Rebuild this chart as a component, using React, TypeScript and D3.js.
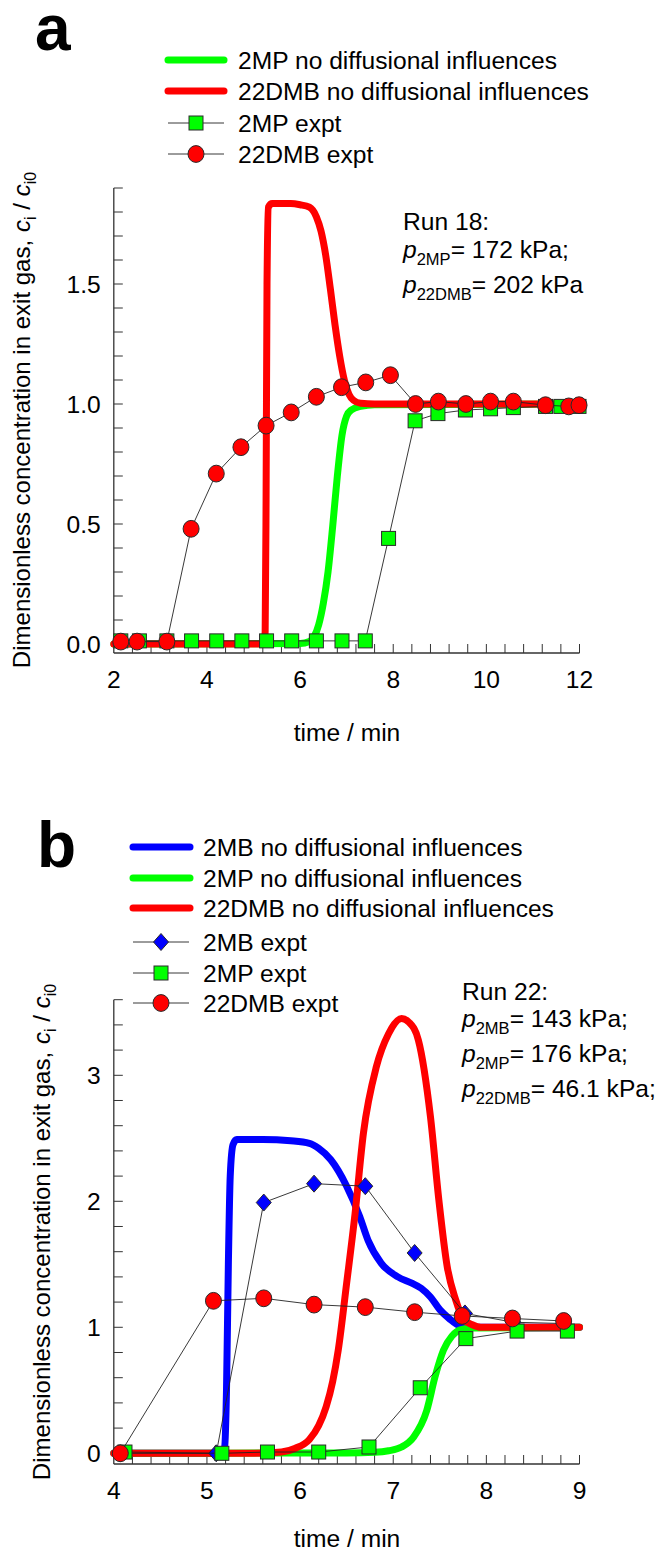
import React from "react";
import * as d3 from "d3";

const FONT = "'Liberation Sans', Arial, Helvetica, sans-serif";
const FS = 24.6;
const GREEN = "#00ff00";
const RED = "#ff0000";
const BLUE = "#0000ff";

// ---------- Panel a data (Run 18) ----------
const aXTicks = [2, 4, 6, 8, 10, 12];
const aYTicks = [0, 0.5, 1.0, 1.5];
const aYTickLabels = ["0.0", "0.5", "1.0", "1.5"];

const aModel2MP_t = [2.0, 6.0, 6.2, 6.3, 6.4, 6.5, 6.6, 6.7, 6.8, 6.9, 7.0, 7.1, 7.3, 7.6, 12.0];
const aModel2MP_c = [0, 0.002, 0.01, 0.03, 0.08, 0.17, 0.3, 0.49, 0.7, 0.87, 0.95, 0.975, 0.99, 0.997, 1.0];

const aModel22DMB_t = [2.0, 5.22, 5.25, 5.27, 5.29, 5.32, 5.4, 5.8, 6.0, 6.2, 6.35, 6.45, 6.55, 6.65, 6.75, 6.85, 6.95, 7.05, 7.15, 7.3, 7.6, 12.0];
const aModel22DMB_c = [0, 0, 0.05, 0.6, 1.5, 1.82, 1.835, 1.835, 1.83, 1.82, 1.78, 1.72, 1.62, 1.48, 1.33, 1.2, 1.1, 1.04, 1.015, 1.003, 1.0, 1.0];

const aExp2MP_t = [2.15, 2.55, 3.14, 3.67, 4.21, 4.75, 5.28, 5.82, 6.35, 6.9, 7.4, 7.9, 8.47, 8.96, 9.55, 10.09, 10.58, 11.27, 11.6, 11.99];
const aExp2MP_c = [0.013, 0.013, 0.013, 0.013, 0.013, 0.013, 0.013, 0.013, 0.013, 0.013, 0.013, 0.44, 0.93, 0.96, 0.975, 0.98, 0.985, 0.99, 0.99, 0.99];

const aExp22DMB_t = [2.15, 2.5, 3.14, 3.66, 4.2, 4.73, 5.27, 5.81, 6.35, 6.89, 7.41, 7.94, 8.48, 8.97, 9.56, 10.09, 10.58, 11.27, 11.77, 11.99];
const aExp22DMB_c = [0.01, 0.01, 0.01, 0.48, 0.71, 0.82, 0.91, 0.965, 1.03, 1.07, 1.09, 1.12, 1.0, 1.01, 1.0, 1.01, 1.01, 0.995, 0.99, 0.995];

// ---------- Panel b data (Run 22) ----------
const bXTicks = [4, 5, 6, 7, 8, 9];
const bYTicks = [0, 1, 2, 3];
const bYTickLabels = ["0", "1", "2", "3"];

const bModel2MB_t = [4.0, 5.15, 5.19, 5.21, 5.23, 5.25, 5.28, 5.32, 5.6, 5.9, 6.1, 6.2, 6.33, 6.5, 6.64, 6.73, 6.87, 7.05, 7.2, 7.3, 7.4, 7.5, 7.6, 7.72, 7.85, 9.0];
const bModel2MB_c = [0, 0, 0.05, 0.5, 1.5, 2.2, 2.45, 2.49, 2.49, 2.48, 2.46, 2.42, 2.33, 2.12, 1.88, 1.69, 1.51, 1.4, 1.35, 1.31, 1.24, 1.14, 1.07, 1.01, 1.0, 1.0];

const bModel2MP_t = [4.0, 6.5, 6.8, 6.95, 7.09, 7.22, 7.36, 7.45, 7.54, 7.63, 7.72, 7.85, 9.0];
const bModel2MP_c = [0, 0.003, 0.008, 0.02, 0.05, 0.13, 0.34, 0.61, 0.82, 0.93, 0.98, 0.995, 1.0];

const bModel22DMB_t = [4.0, 5.5, 5.8, 5.95, 6.1, 6.2, 6.28, 6.35, 6.41, 6.5, 6.59, 6.68, 6.82, 6.95, 7.09, 7.17, 7.27, 7.4, 7.49, 7.58, 7.67, 7.76, 7.85, 7.94, 9.0];
const bModel22DMB_c = [0, 0, 0.01, 0.04, 0.11, 0.22, 0.37, 0.57, 0.82, 1.35, 1.9, 2.54, 3.07, 3.33, 3.45, 3.42, 3.28, 2.67, 2.01, 1.48, 1.22, 1.06, 1.02, 1.0, 1.0];

const bExp2MB_t = [4.07, 5.1, 5.61, 6.15, 6.7, 7.23, 7.77, 8.29, 8.83];
const bExp2MB_c = [0.0, 0.0, 1.99, 2.14, 2.12, 1.59, 1.11, 1.04, 1.03];

const bExp2MP_t = [4.12, 5.16, 5.65, 6.2, 6.74, 7.29, 7.78, 8.33, 8.87];
const bExp2MP_c = [0.01, 0.0, 0.01, 0.01, 0.05, 0.52, 0.91, 0.97, 0.97];

const bExp22DMB_t = [4.07, 5.07, 5.61, 6.15, 6.7, 7.23, 7.74, 8.28, 8.83];
const bExp22DMB_c = [0.0, 1.21, 1.23, 1.18, 1.16, 1.12, 1.09, 1.07, 1.05];

const zip = (t: number[], c: number[]) => t.map((v, i) => [v, c[i]] as [number, number]);

type Scale = d3.ScaleLinear<number, number>;

function Marker({ kind, cx, cy }: { kind: string; cx: number; cy: number }) {
  if (kind === "square")
    return <rect x={cx - 7} y={cy - 7} width={14} height={14} fill={GREEN} stroke="#2a2a2a" strokeWidth={1} />;
  if (kind === "circle")
    return <ellipse cx={cx} cy={cy} rx={8} ry={8.4} fill={RED} stroke="#2a2a2a" strokeWidth={1} />;
  return (
    <path
      d={`M${cx},${cy - 8.5}L${cx + 7.5},${cy}L${cx},${cy + 8.5}L${cx - 7.5},${cy}Z`}
      fill={BLUE}
      stroke="#2a2a2a"
      strokeWidth={1}
    />
  );
}

function Axes({
  x, y, xTicks, xMinor, yTicks, yLabels, yMinor, bottom, top,
}: {
  x: Scale; y: Scale; xTicks: number[]; xMinor: number[]; yTicks: number[]; yLabels: string[]; yMinor: number[]; bottom: number; top: number;
}) {
  const [x0, x1] = x.range();
  return (
    <g>
      <line x1={x0} x2={x0} y1={top} y2={bottom} stroke="#333" strokeWidth={1.3} />
      <line x1={x0} x2={x1} y1={bottom} y2={bottom} stroke="#333" strokeWidth={1.3} />
      {xMinor.map((v, i) => (
        <line key={"xm" + i} x1={x(v)} x2={x(v)} y1={bottom} y2={bottom - 9} stroke="#333" strokeWidth={1} />
      ))}
      {yMinor.map((v, i) => (
        <line key={"ym" + i} x1={x0} x2={x0 + 9} y1={y(v)} y2={y(v)} stroke="#333" strokeWidth={1} />
      ))}
      {xTicks.map((v, i) => (
        <text key={"xl" + i} x={x(v)} y={bottom + 35} textAnchor="middle" fontSize={FS} fontFamily={FONT} fill="#000">
          {String(v)}
        </text>
      ))}
      {yTicks.map((v, i) => (
        <text key={"yl" + i} x={x0 - 13} y={y(v) + 8.7} textAnchor="end" fontSize={FS} fontFamily={FONT} fill="#000">
          {yLabels[i]}
        </text>
      ))}
    </g>
  );
}

function Series({ x, y, t, c, kind }: { x: Scale; y: Scale; t: number[]; c: number[]; kind: string }) {
  const pts = zip(t, c);
  const ln = d3.line<[number, number]>().x((d) => x(d[0])).y((d) => y(d[1]));
  return (
    <g>
      <path d={ln(pts) || ""} fill="none" stroke="#222" strokeWidth={0.9} />
      {pts.map((p, i) => (
        <Marker key={i} kind={kind} cx={x(p[0])} cy={y(p[1])} />
      ))}
    </g>
  );
}

function Model({ x, y, t, c, color }: { x: Scale; y: Scale; t: number[]; c: number[]; color: string }) {
  const ln = d3
    .line<[number, number]>()
    .x((d) => x(d[0]))
    .y((d) => y(d[1]))
    .curve(d3.curveMonotoneX);
  return <path d={ln(zip(t, c)) || ""} fill="none" stroke={color} strokeWidth={7} strokeLinejoin="round" strokeLinecap="round" />;
}

function LegendLine({ x1, x2, y, color, label, tx }: { x1: number; x2: number; y: number; color: string; label: string; tx: number }) {
  return (
    <g>
      <line x1={x1} x2={x2} y1={y} y2={y} stroke={color} strokeWidth={7} strokeLinecap="round" />
      <text x={tx} y={y + 8.7} fontSize={FS} fontFamily={FONT}>{label}</text>
    </g>
  );
}

function LegendMarker({ x1, x2, y, kind, label, tx }: { x1: number; x2: number; y: number; kind: string; label: string; tx: number }) {
  return (
    <g>
      <line x1={x1} x2={x2} y1={y} y2={y} stroke="#222" strokeWidth={0.9} />
      <Marker kind={kind} cx={(x1 + x2) / 2} cy={y} />
      <text x={tx} y={y + 8.7} fontSize={FS} fontFamily={FONT}>{label}</text>
    </g>
  );
}

function YLabel({ x, y }: { x: number; y: number }) {
  return (
    <text transform={`translate(${x},${y}) rotate(-90)`} textAnchor="middle" fontSize={24} fontFamily={FONT}>
      Dimensionless concentration in exit gas,
      <tspan dx={8} fontStyle="italic">c</tspan>
      <tspan fontSize={16} dy={6}>i</tspan>
      <tspan dy={-6}> / </tspan>
      <tspan fontStyle="italic">c</tspan>
      <tspan fontSize={16} dy={6}>i0</tspan>
    </text>
  );
}

function Pressure({ x, y, sub, value }: { x: number; y: number; sub: string; value: string }) {
  return (
    <text x={x} y={y} fontSize={FS} fontFamily={FONT}>
      <tspan fontStyle="italic">p</tspan>
      <tspan fontSize={16.5} dy={7}>{sub}</tspan>
      <tspan dy={-7}>{value}</tspan>
    </text>
  );
}

export default function App() {
  const xA = d3.scaleLinear().domain([2, 12]).range([113.8, 579.5]);
  const yA = d3.scaleLinear().domain([-0.0375, 1.9]).range([653, 188]);
  const xB = d3.scaleLinear().domain([4, 9]).range([113.8, 579.5]);
  const yB = d3.scaleLinear().domain([-0.085, 3.6]).range([1464, 999.7]);

  const aXMinor = d3.range(1, 26).map((i) => 2 + i * 0.4);
  const aYMinor = d3.range(0, 20).map((i) => i * 0.1);
  const bXMinor = d3.range(1, 26).map((i) => 4 + i * 0.2);
  const bYMinor = d3.range(0, 19).map((i) => i * 0.2);

  return (
    <svg width={656} height={1552} style={{ display: "block", position: "absolute", left: 0, top: 0, background: "#fff" }}>
      <rect width={656} height={1552} fill="#fff" />
      {/* Panel a */}
      <text x={35} y={50} fontSize={64} fontWeight="bold" fontFamily={FONT}>a</text>
      <LegendLine x1={168} x2={224} y={60} color={GREEN} label="2MP no diffusional influences" tx={238} />
      <LegendLine x1={168} x2={224} y={91} color={RED} label="22DMB no diffusional influences" tx={238} />
      <LegendMarker x1={168} x2={224} y={123} kind="square" label="2MP expt" tx={238} />
      <LegendMarker x1={168} x2={224} y={154} kind="circle" label="22DMB expt" tx={238} />

      <Axes x={xA} y={yA} xTicks={aXTicks} xMinor={aXMinor} yTicks={aYTicks} yLabels={aYTickLabels} yMinor={aYMinor} bottom={653} top={188} />
      <Model x={xA} y={yA} t={aModel2MP_t} c={aModel2MP_c} color={GREEN} />
      <Model x={xA} y={yA} t={aModel22DMB_t} c={aModel22DMB_c} color={RED} />
      <Series x={xA} y={yA} t={aExp2MP_t} c={aExp2MP_c} kind="square" />
      <Series x={xA} y={yA} t={aExp22DMB_t} c={aExp22DMB_c} kind="circle" />

      <text x={403} y={230} fontSize={FS} fontFamily={FONT}>Run 18:</text>
      <Pressure x={403} y={258} sub="2MP" value="= 172 kPa;" />
      <Pressure x={403} y={293} sub="22DMB" value="= 202 kPa" />

      <YLabel x={30} y={420} />
      <text x={347} y={741} textAnchor="middle" fontSize={FS} fontFamily={FONT}>time / min</text>

      {/* Panel b */}
      <text x={37} y={867} fontSize={64} fontWeight="bold" fontFamily={FONT}>b</text>
      <LegendLine x1={133} x2={190} y={847} color={BLUE} label="2MB no diffusional influences" tx={203} />
      <LegendLine x1={133} x2={190} y={878} color={GREEN} label="2MP no diffusional influences" tx={203} />
      <LegendLine x1={133} x2={190} y={908} color={RED} label="22DMB no diffusional influences" tx={203} />
      <LegendMarker x1={133} x2={189} y={942} kind="diamond" label="2MB expt" tx={203} />
      <LegendMarker x1={133} x2={189} y={973} kind="square" label="2MP expt" tx={203} />
      <LegendMarker x1={133} x2={189} y={1003} kind="circle" label="22DMB expt" tx={203} />

      <Axes x={xB} y={yB} xTicks={bXTicks} xMinor={bXMinor} yTicks={bYTicks} yLabels={bYTickLabels} yMinor={bYMinor} bottom={1464} top={999.7} />
      <Model x={xB} y={yB} t={bModel2MB_t} c={bModel2MB_c} color={BLUE} />
      <Model x={xB} y={yB} t={bModel2MP_t} c={bModel2MP_c} color={GREEN} />
      <Model x={xB} y={yB} t={bModel22DMB_t} c={bModel22DMB_c} color={RED} />
      <Series x={xB} y={yB} t={bExp2MB_t} c={bExp2MB_c} kind="diamond" />
      <Series x={xB} y={yB} t={bExp2MP_t} c={bExp2MP_c} kind="square" />
      <Series x={xB} y={yB} t={bExp22DMB_t} c={bExp22DMB_c} kind="circle" />

      <text x={462} y={1000} fontSize={FS} fontFamily={FONT}>Run 22:</text>
      <Pressure x={462} y={1027} sub="2MB" value="= 143 kPa;" />
      <Pressure x={462} y={1062} sub="2MP" value="= 176 kPa;" />
      <Pressure x={462} y={1097} sub="22DMB" value="= 46.1 kPa;" />

      <YLabel x={50} y={1232} />
      <text x={347} y={1547} textAnchor="middle" fontSize={FS} fontFamily={FONT}>time / min</text>
    </svg>
  );
}
